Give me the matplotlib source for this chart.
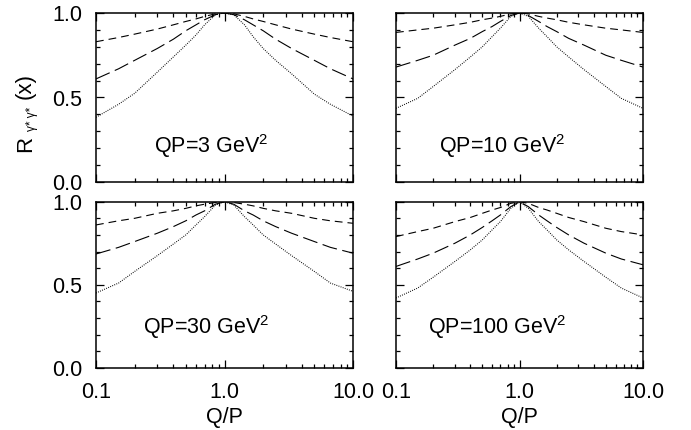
import matplotlib
matplotlib.use("Agg")
import matplotlib.pyplot as plt
from matplotlib.ticker import LogLocator, FixedLocator, NullFormatter, FixedFormatter

plt.rcParams["font.family"] = ["Liberation Sans", "DejaVu Sans"]
plt.rcParams["mathtext.fontset"] = "custom"
plt.rcParams["mathtext.rm"] = "Liberation Sans"
plt.rcParams["mathtext.it"] = "Liberation Sans:italic"

# Q/P values where the curves were read
qp_ratio = [0.1, 0.15, 0.2, 0.3, 0.4, 0.5, 0.6, 0.7, 0.85, 1.0,
            1.18, 1.43, 1.67, 2.0, 2.5, 3.33, 5.0, 6.67, 10.0]

panel_labels = ["QP=3 GeV$^2$", "QP=10 GeV$^2$", "QP=30 GeV$^2$", "QP=100 GeV$^2$"]

# curves per panel: short dash, long dash, dotted
short_3 = [0.83, 0.855, 0.875, 0.905, 0.93, 0.95, 0.965, 0.98, 0.995, 1.0,
           0.995, 0.98, 0.965, 0.95, 0.93, 0.905, 0.875, 0.855, 0.83]
long_3 = [0.61, 0.67, 0.72, 0.79, 0.845, 0.895, 0.93, 0.96, 0.99, 1.0,
          0.99, 0.96, 0.93, 0.895, 0.845, 0.79, 0.72, 0.67, 0.61]
dot_3 = [0.383, 0.46, 0.525, 0.65, 0.74, 0.81, 0.87, 0.93, 0.99, 1.0,
         0.99, 0.93, 0.86, 0.79, 0.72, 0.64, 0.52, 0.46, 0.39]

short_10 = [0.885, 0.90, 0.91, 0.93, 0.945, 0.96, 0.97, 0.98, 0.995, 1.0,
            0.995, 0.98, 0.97, 0.96, 0.945, 0.93, 0.91, 0.90, 0.885]
long_10 = [0.68, 0.72, 0.75, 0.81, 0.85, 0.89, 0.92, 0.95, 0.985, 1.0,
           0.985, 0.95, 0.92, 0.89, 0.85, 0.81, 0.75, 0.72, 0.68]
dot_10 = [0.436, 0.495, 0.565, 0.665, 0.74, 0.80, 0.86, 0.91, 0.98, 1.0,
          0.98, 0.91, 0.86, 0.80, 0.74, 0.665, 0.565, 0.495, 0.436]

short_30 = [0.86, 0.885, 0.90, 0.93, 0.945, 0.96, 0.975, 0.985, 0.995, 1.0,
            0.995, 0.985, 0.975, 0.96, 0.945, 0.93, 0.90, 0.885, 0.87]
long_30 = [0.685, 0.725, 0.76, 0.81, 0.85, 0.885, 0.92, 0.945, 0.985, 1.0,
           0.985, 0.945, 0.92, 0.885, 0.85, 0.81, 0.76, 0.725, 0.69]
dot_30 = [0.45, 0.51, 0.58, 0.675, 0.745, 0.80, 0.86, 0.91, 0.98, 1.0,
          0.98, 0.91, 0.86, 0.80, 0.745, 0.675, 0.58, 0.51, 0.46]

short_100 = [0.79, 0.82, 0.84, 0.88, 0.905, 0.93, 0.95, 0.965, 0.99, 1.0,
             0.99, 0.965, 0.95, 0.93, 0.905, 0.88, 0.84, 0.82, 0.80]
long_100 = [0.61, 0.655, 0.69, 0.75, 0.80, 0.845, 0.885, 0.92, 0.97, 1.0,
            0.97, 0.92, 0.885, 0.845, 0.80, 0.75, 0.69, 0.655, 0.62]
dot_100 = [0.42, 0.48, 0.545, 0.64, 0.71, 0.77, 0.83, 0.88, 0.96, 1.0,
           0.96, 0.88, 0.83, 0.77, 0.71, 0.64, 0.545, 0.48, 0.42]

panels = [(short_3, long_3, dot_3), (short_10, long_10, dot_10),
          (short_30, long_30, dot_30), (short_100, long_100, dot_100)]

fig = plt.figure(figsize=(6.91, 4.30), dpi=100)
rects = [
    [96 / 691, 1 - 182 / 430, 257 / 691, 169 / 430],
    [396 / 691, 1 - 182 / 430, 247 / 691, 169 / 430],
    [96 / 691, 1 - 367.7 / 430, 257 / 691, 166 / 430],
    [396 / 691, 1 - 367.7 / 430, 247 / 691, 166 / 430],
]
label_pos = [(0.45, 0.21), (0.43, 0.21), (0.43, 0.245), (0.41, 0.245)]
fs = 15.5

for i, (rect, (s, l, d)) in enumerate(zip(rects, panels)):
    ax = fig.add_axes(rect)
    ax.plot(qp_ratio, s, color="black", lw=0.8, dashes=(7, 4.5))
    ax.plot(qp_ratio, l, color="black", lw=0.8, dashes=(13.5, 5))
    ax.plot(qp_ratio, d, color="black", lw=0.8, dashes=(0.8, 1.2))
    ax.set_xscale("log")
    ax.set_xlim(0.1, 10)
    ax.set_ylim(0, 1)
    ax.xaxis.set_major_locator(FixedLocator([0.1, 1.0, 10.0]))
    ax.xaxis.set_minor_locator(LogLocator(base=10, subs=range(2, 10)))
    ax.xaxis.set_minor_formatter(NullFormatter())
    ax.xaxis.set_major_formatter(FixedFormatter(["0.1", "1.0", "10.0"]))
    ax.yaxis.set_major_locator(FixedLocator([0.0, 0.5, 1.0]))
    ax.yaxis.set_minor_locator(FixedLocator([k / 10 for k in range(11)]))
    ax.yaxis.set_major_formatter(FixedFormatter(["0.0", "0.5", "1.0"]))
    ax.tick_params(which="both", direction="in", top=True, right=True,
                   labelsize=fs, width=0.9, pad=10)
    ax.tick_params(which="major", length=5.5)
    ax.tick_params(which="minor", length=3)
    for sp in ax.spines.values():
        sp.set_linewidth(1.1)
    if i in (1, 3):
        ax.tick_params(labelleft=False)
    if i in (0, 1):
        ax.tick_params(labelbottom=False)
    else:
        ax.set_xlabel("Q/P", fontsize=fs, labelpad=3)
    ax.text(label_pos[i][0], label_pos[i][1], panel_labels[i], transform=ax.transAxes,
            ha="center", va="center", fontsize=fs)

# y label: large R, tiny subscript, (x)
fig.text(25.5 / 691, 1 - 144 / 430, "R", rotation=90, ha="center", va="center", fontsize=16)
fig.text(31.5 / 691, 1 - 119 / 430, "γ* γ*", rotation=90, ha="center", va="center", fontsize=8.5)
fig.text(25.5 / 691, 1 - 86 / 430, "(x)", rotation=90, ha="center", va="center", fontsize=16)

fig.savefig("out.png", dpi=100)
